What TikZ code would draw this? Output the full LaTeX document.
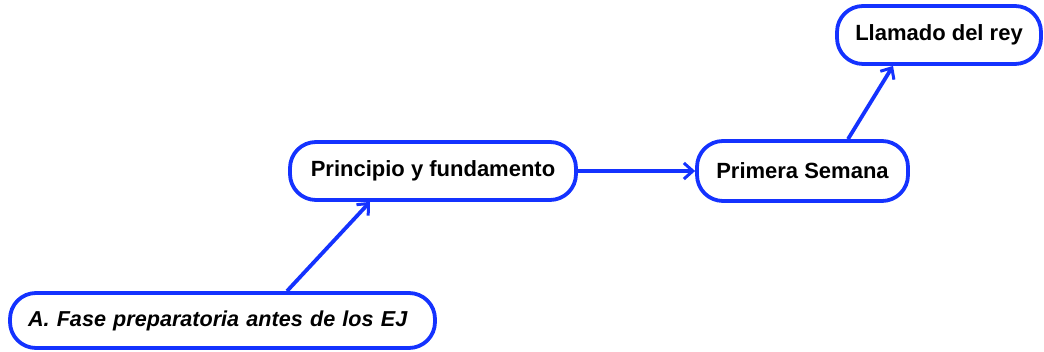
\documentclass[tikz,border=0pt]{standalone}
\usepackage{fontspec}
\setmainfont{Liberation Sans}
\usetikzlibrary{arrows.meta}
\definecolor{boxblue}{RGB}{20,50,255}
\begin{document}
\begin{tikzpicture}[x=1pt,y=1pt,
  pill/.style={draw=boxblue, line width=3.8pt, rounded corners=26pt, fill=white,
    font=\bfseries\fontsize{22}{26}\selectfont, inner sep=0pt},
  conn/.style={draw=boxblue, line width=3.8pt, -{Straight Barb[length=9pt,width=16pt,line width=3pt]}}]
\useasboundingbox (0,0) rectangle (1044,352);
\node[pill, minimum width=425pt, minimum height=55pt, text width=389pt, align=left,
  font=\bfseries\itshape\fontsize{21.6}{25}\selectfont] (a) at (222.5,31.5) {A. Fase preparatoria antes de los EJ};
\node[pill, minimum width=286pt, minimum height=58pt] (p) at (433,181) {Principio y fundamento};
\node[pill, minimum width=211pt, minimum height=60pt] (s) at (802.5,181) {Primera Semana};
\node[pill, minimum width=204pt, minimum height=58pt] (l) at (939,317) {Llamado del rey};
\draw[conn] ([xshift=64.5pt]a.north) -- ([xshift=-63pt]p.south);
\draw[conn] (p.east) -- (s.west);
\draw[conn] ([xshift=45.5pt]s.north) -- ([xshift=-46pt]l.south);
\end{tikzpicture}
\end{document}
